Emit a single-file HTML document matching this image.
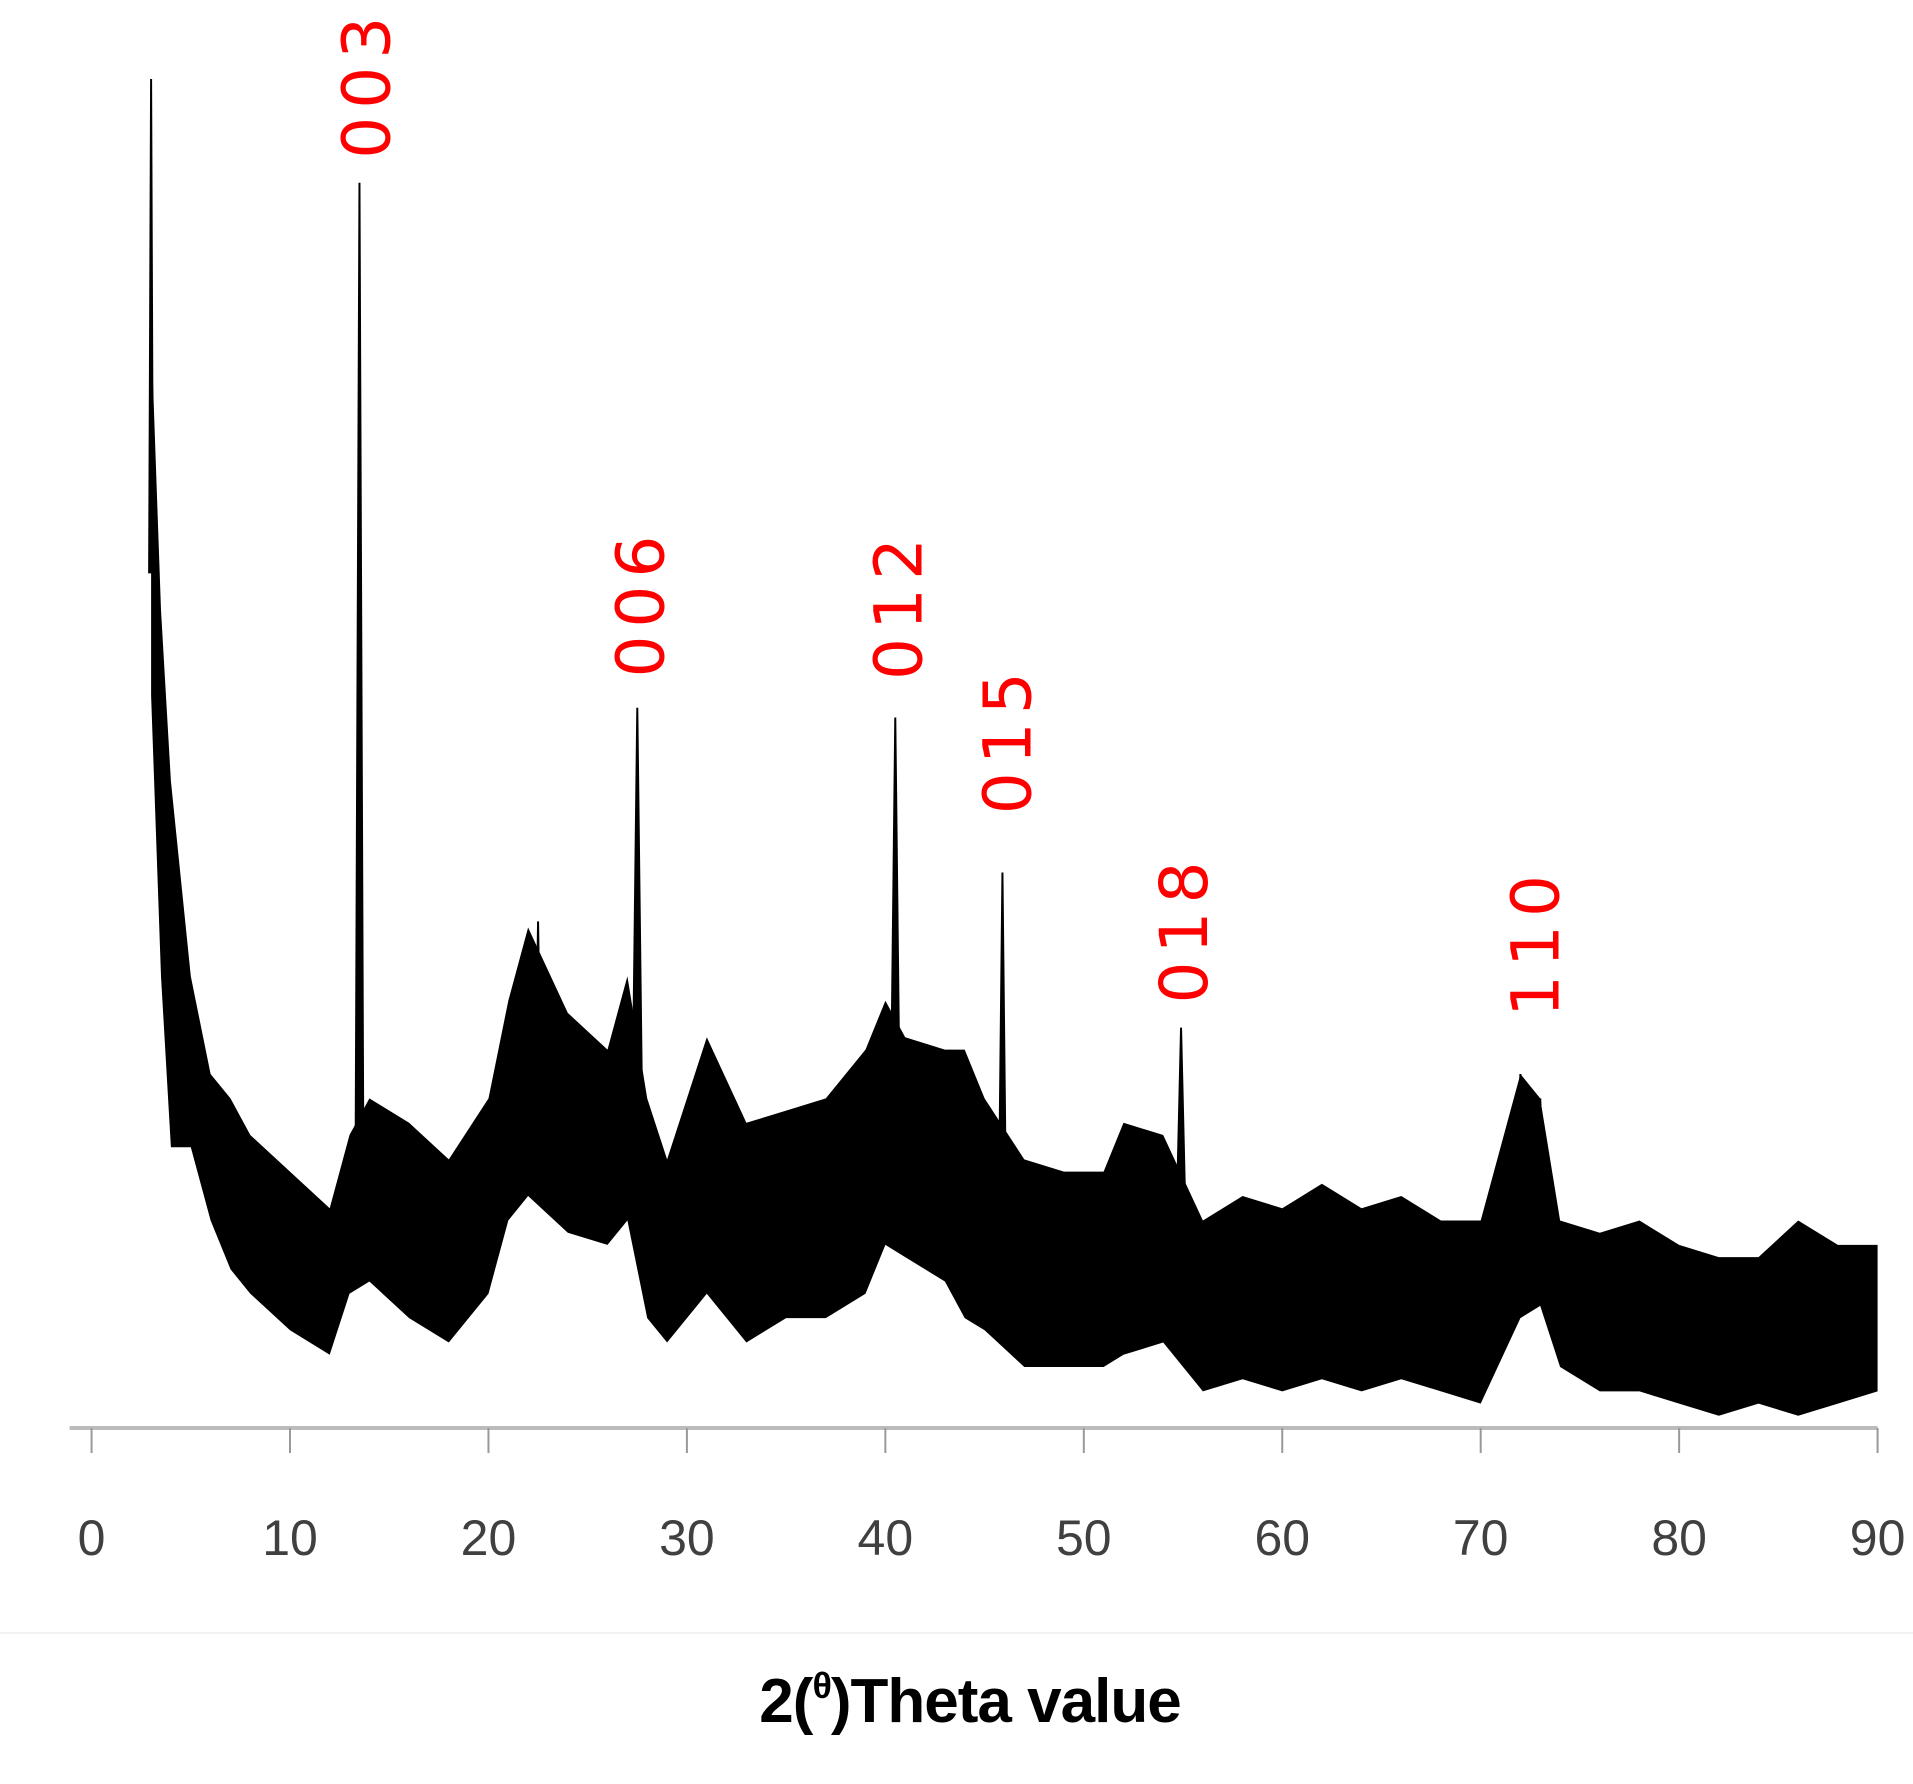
<!DOCTYPE html>
<html><head><meta charset="utf-8"><style>
html,body{margin:0;padding:0;background:#fff;}
svg{display:block;}
</style></head><body>
<svg id="chart" width="1913" height="1784" viewBox="0 0 1913 1784" xmlns="http://www.w3.org/2000/svg">
<line x1="0" y1="1633" x2="1913" y2="1633" stroke="#f2f2f2" stroke-width="2"/>
<g id="plot"></g>
<g id="axis"></g>
<text x="970" y="1722" text-anchor="middle" font-family="Liberation Sans, sans-serif" font-weight="bold" font-size="62" letter-spacing="-1" fill="#000">2(<tspan font-size="36" dy="-24">θ</tspan><tspan dy="24">)Theta value</tspan></text>
</svg>
<script>
const bandX = [3.0,3.5,4,5,6,7,8,10,12,13,14,16,18,20,21,22,24,26,27,28,29,31,33,35,37,39,40,41,43,44,45,47,49,51,52,54,56,58,60,62,64,66,68,70,72,73,74,76,78,80,82,84,86,88,90];
const bandUpper = [900,670,530,370,290,270,240,210,180,240,270,250,220,270,350,410,340,310,370,270,220,320,250,260,270,310,350,320,310,310,270,220,210,210,250,240,170,190,180,200,180,190,170,170,290,270,170,160,170,150,140,140,170,150,150];
const bandLower = [600,370,230,230,170,130,110,80,60,110,120,90,70,110,170,190,160,150,170,90,70,110,70,90,90,110,150,140,120,90,80,50,50,50,60,70,30,40,30,40,30,40,30,20,90,100,50,30,30,20,10,20,10,20,30];
const peakX = [3.0,13.5,22.5,27.5,40.5,45.9,54.9,72.0,73.0];
const peakY = [1105,1020,415,590,582,455,328,290,270];
const peakBase = [700,200,250,250,220,150,120,150,150];
const peakW = [0.3,0.5,0.4,0.6,0.6,0.5,0.7,0.7,0.6];
const labelText = ["003","006","012","015","018","110"];
const labelX = [13.7,27.5,40.5,46.0,54.9,72.6];
const labelBottom = [130,555,557,667,822,833];
const tickLabels = ["0","10","20","30","40","50","60","70","80","90"];

const S = 1913/1567;
const X0 = 75*S, X90 = 1538*S, Y0 = 1428;
function sx(d){return X0 + (X90-X0)*d/90;}
function sy(v){return Y0 - v*S;}
const NS="http://www.w3.org/2000/svg";
const plot=document.getElementById('plot'), axis=document.getElementById('axis');

let pts=[];
for(let i=0;i<bandX.length;i++) pts.push(sx(bandX[i]).toFixed(1)+','+sy(bandUpper[i]).toFixed(1));
for(let i=bandX.length-1;i>=0;i--) pts.push(sx(bandX[i]).toFixed(1)+','+sy(bandLower[i]).toFixed(1));
const band=document.createElementNS(NS,'polygon');


band.setAttribute('points',pts.join(' '));
band.setAttribute('fill','#000');
plot.appendChild(band);

for(let i=0;i<peakX.length;i++){
  const p=document.createElementNS(NS,'polygon');
  
  
  const base=peakBase[i];
  p.setAttribute('points',[sx(peakX[i]-peakW[i]/2)+','+sy(base),sx(peakX[i]-0.05)+','+sy(peakY[i]),sx(peakX[i]+0.05)+','+sy(peakY[i]),sx(peakX[i]+peakW[i]/2)+','+sy(base)].join(' '));
  p.setAttribute('fill','#000');
  plot.appendChild(p);
}

for(let i=0;i<labelText.length;i++){
  const t=document.createElementNS(NS,'text');
  
  
  const cx=sx(labelX[i])+26, by=labelBottom[i]*S;
  t.setAttribute('x',cx); t.setAttribute('y',by);
  t.setAttribute('transform','rotate(-90 '+cx+' '+by+')');
  t.setAttribute('font-family','DejaVu Sans, Liberation Sans, sans-serif');
  t.setAttribute('font-size','66');
  t.setAttribute('letter-spacing','8');
  t.setAttribute('fill','#ff0000');
  t.textContent=labelText[i];
  plot.appendChild(t);
}

const al=document.createElementNS(NS,'line');


al.setAttribute('x1',57*S); al.setAttribute('x2',X90); al.setAttribute('y1',Y0); al.setAttribute('y2',Y0);
al.setAttribute('stroke','#bbb'); al.setAttribute('stroke-width','4');
axis.appendChild(al);
for(let i=0;i<tickLabels.length;i++){
  const d=i*10;
  const tk=document.createElementNS(NS,'line');
  
  
  tk.setAttribute('x1',sx(d)); tk.setAttribute('x2',sx(d)); tk.setAttribute('y1',Y0); tk.setAttribute('y2',Y0+25);
  tk.setAttribute('stroke','#999'); tk.setAttribute('stroke-width','2');
  axis.appendChild(tk);
  const tl=document.createElementNS(NS,'text');
  
  
  tl.setAttribute('x',sx(d)); tl.setAttribute('y',1555);
  tl.setAttribute('text-anchor','middle');
  tl.setAttribute('font-family','Liberation Sans, sans-serif');
  tl.setAttribute('font-size','50'); tl.setAttribute('fill','#404040');
  tl.textContent=tickLabels[i];
  axis.appendChild(tl);
}
</script>
</body></html>
